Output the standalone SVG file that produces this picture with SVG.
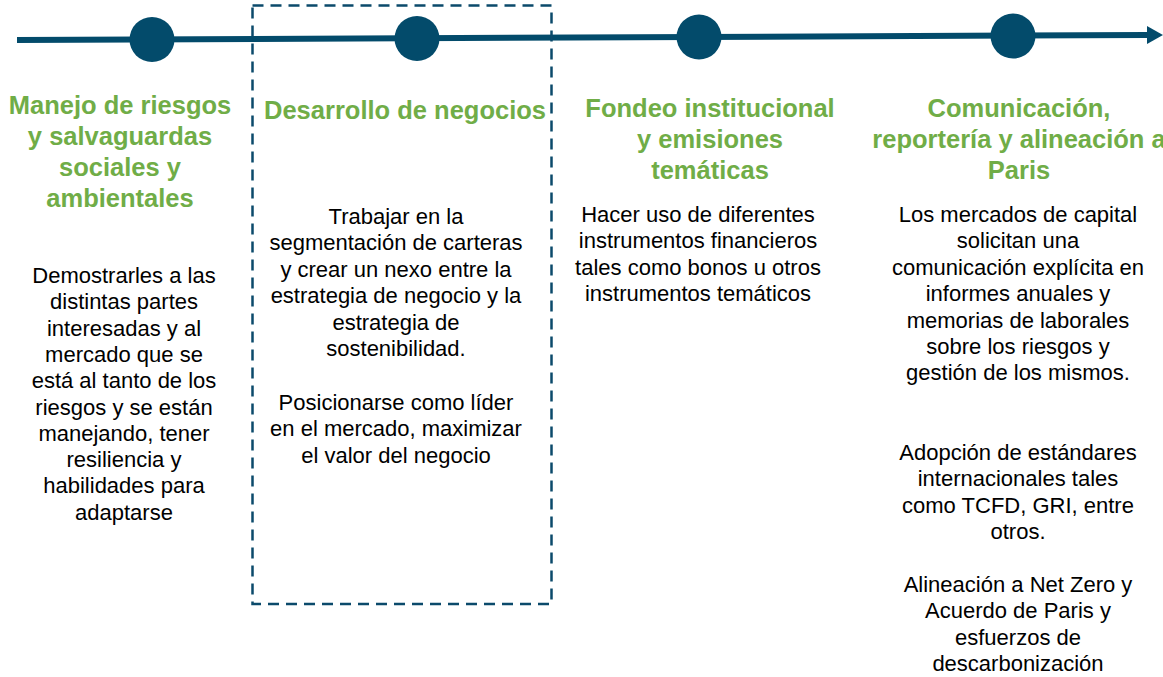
<svg xmlns="http://www.w3.org/2000/svg" width="1163" height="677" viewBox="0 0 1163 677">
<style>
.t{font-family:"Liberation Sans",Arial,sans-serif;font-weight:bold;font-size:25.5px;fill:#70AD47;text-anchor:middle}
.b{font-family:"Liberation Sans",Arial,sans-serif;font-size:22px;fill:#000;text-anchor:middle}
.dot{fill:#034B6B}
</style>
<defs>
<marker id="ah" markerWidth="16" markerHeight="18" refX="0" refY="9" orient="auto" markerUnits="userSpaceOnUse">
<path d="M0,0 L16,9 L0,18 Z" fill="#034B6B"/>
</marker>
</defs>
<rect width="1163" height="677" fill="#fff"/>
<g id="connectors">
<line x1="17" y1="40" x2="1147" y2="35" stroke="#034B6B" stroke-width="6" marker-end="url(#ah)"/>
</g>
<g id="frame">
<rect x="252.5" y="5.5" width="299" height="598.5" fill="none" stroke="#0B4A6B" stroke-width="2.5" stroke-dasharray="11 7"/>
</g>
<g id="node1">
<circle class="dot" cx="152" cy="39.5" r="22.5"/>
<text class="t"><tspan x="120" y="114">Manejo de riesgos</tspan><tspan x="120" dy="31">y salvaguardas</tspan><tspan x="120" dy="31">sociales y</tspan><tspan x="120" dy="31">ambientales</tspan></text>
<text class="b"><tspan x="124" y="283">Demostrarles a las</tspan><tspan x="124" dy="26.3">distintas partes</tspan><tspan x="124" dy="26.3">interesadas y al</tspan><tspan x="124" dy="26.3">mercado que se</tspan><tspan x="124" dy="26.3">está al tanto de los</tspan><tspan x="124" dy="26.3">riesgos y se están</tspan><tspan x="124" dy="26.3">manejando, tener</tspan><tspan x="124" dy="26.3">resiliencia y</tspan><tspan x="124" dy="26.3">habilidades para</tspan><tspan x="124" dy="26.3">adaptarse</tspan></text>
</g>
<g id="node2">
<circle class="dot" cx="417" cy="38.5" r="22.5"/>
<text class="t" x="405" y="119">Desarrollo de negocios</text>
<text class="b"><tspan x="396" y="224">Trabajar en la</tspan><tspan x="396" dy="26.4">segmentación de carteras</tspan><tspan x="396" dy="26.4">y crear un nexo entre la</tspan><tspan x="396" dy="26.4">estrategia de negocio y la</tspan><tspan x="396" dy="26.4">estrategia de</tspan><tspan x="396" dy="26.4">sostenibilidad.</tspan></text>
<text class="b"><tspan x="396" y="410">Posicionarse como líder</tspan><tspan x="396" dy="26.4">en el mercado, maximizar</tspan><tspan x="396" dy="26.4">el valor del negocio</tspan></text>
</g>
<g id="node3">
<circle class="dot" cx="699" cy="37" r="22.5"/>
<text class="t"><tspan x="710" y="117">Fondeo institucional</tspan><tspan x="710" dy="31">y emisiones</tspan><tspan x="710" dy="31">temáticas</tspan></text>
<text class="b"><tspan x="698" y="222">Hacer uso de diferentes</tspan><tspan x="698" dy="26.4">instrumentos financieros</tspan><tspan x="698" dy="26.4">tales como bonos u otros</tspan><tspan x="698" dy="26.4">instrumentos temáticos</tspan></text>
</g>
<g id="node4">
<circle class="dot" cx="1013" cy="36" r="22.5"/>
<text class="t"><tspan x="1019" y="117">Comunicación,</tspan><tspan x="1019" dy="31">reportería y alineación a</tspan><tspan x="1019" dy="31">Paris</tspan></text>
<text class="b"><tspan x="1018" y="222">Los mercados de capital</tspan><tspan x="1018" dy="26.4">solicitan una</tspan><tspan x="1018" dy="26.4">comunicación explícita en</tspan><tspan x="1018" dy="26.4">informes anuales y</tspan><tspan x="1018" dy="26.4">memorias de laborales</tspan><tspan x="1018" dy="26.4">sobre los riesgos y</tspan><tspan x="1018" dy="26.4">gestión de los mismos.</tspan></text>
<text class="b"><tspan x="1018" y="460">Adopción de estándares</tspan><tspan x="1018" dy="26.4">internacionales tales</tspan><tspan x="1018" dy="26.4">como TCFD, GRI, entre</tspan><tspan x="1018" dy="26.4">otros.</tspan></text>
<text class="b"><tspan x="1018" y="592">Alineación a Net Zero y</tspan><tspan x="1018" dy="26.4">Acuerdo de Paris y</tspan><tspan x="1018" dy="26.4">esfuerzos de</tspan><tspan x="1018" dy="26.4">descarbonización</tspan></text>
</g>
</svg>
